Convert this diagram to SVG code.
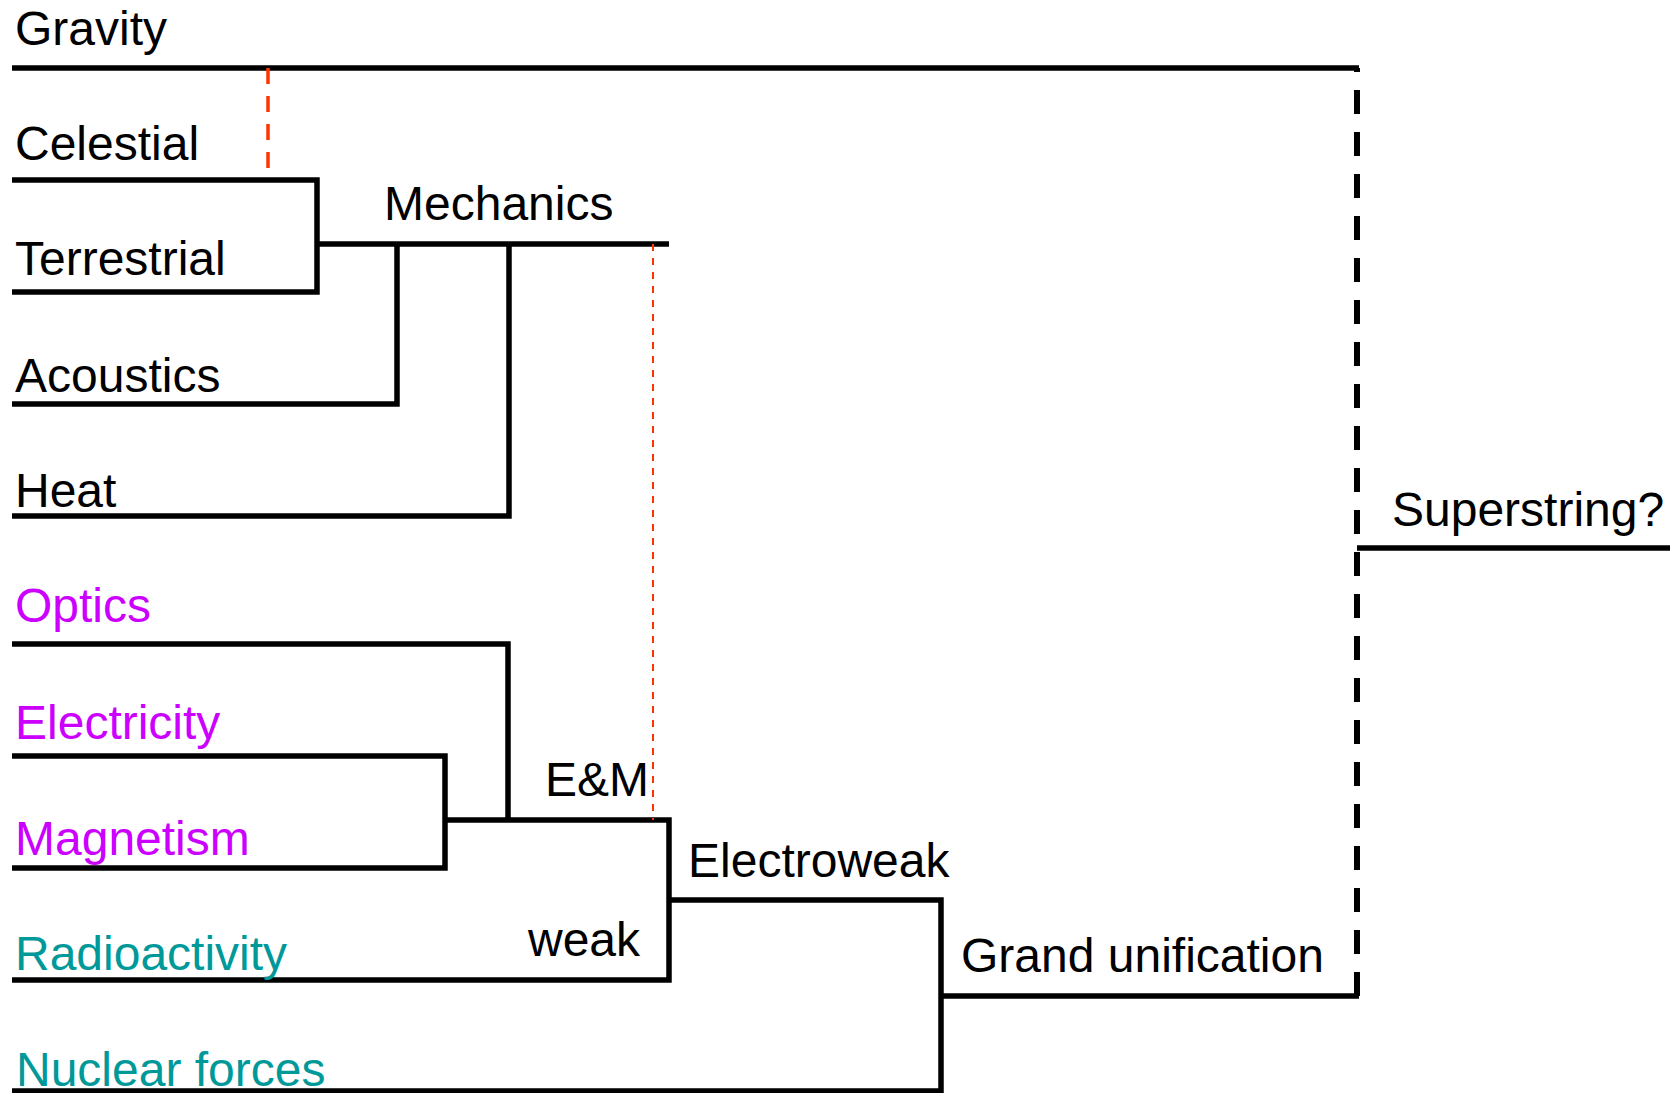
<svg xmlns="http://www.w3.org/2000/svg" width="1670" height="1093" viewBox="0 0 1670 1093">
  <style>
    text { font-family: "Liberation Sans", Arial, sans-serif; font-size: 48px; fill: #000; }
    .mag { fill: #cc00ff; }
    .teal { fill: #009999; }
    .ln { fill: none; stroke: #000; stroke-width: 5.5; stroke-linejoin: miter; stroke-linecap: butt; }
    .dash { fill: none; stroke: #000; stroke-width: 6; stroke-dasharray: 24 18; }
    .red1 { fill: none; stroke: #ff3300; stroke-width: 3.5; stroke-dasharray: 16 12; }
    .red2 { fill: none; stroke: #ff3300; stroke-width: 2; stroke-dasharray: 7 7; }
  </style>
  <rect width="1670" height="1093" fill="#fff"/>
  <g id="connectors">
    <polyline class="ln" points="12,68 1359,68"/>
    <polyline class="ln" points="12,180 317,180 317,292 12,292"/>
    <polyline class="ln" points="317,244 669,244"/>
    <polyline class="ln" points="12,404 397,404 397,244"/>
    <polyline class="ln" points="12,516 509,516 509,244"/>
    <polyline class="ln" points="12,644 508,644 508,820"/>
    <polyline class="ln" points="12,756 445,756 445,868 12,868"/>
    <polyline class="ln" points="445,820 669,820 669,980 12,980"/>
    <polyline class="ln" points="669,900 941,900 941,1091 12,1091"/>
    <polyline class="ln" points="941,996 1359,996"/>
    <line class="dash" x1="1357" y1="996" x2="1357" y2="68"/>
    <polyline class="ln" points="1357,548 1670,548"/>
    <line class="red1" x1="268" y1="68" x2="268" y2="168"/>
    <line class="red2" x1="653" y1="244" x2="653" y2="820"/>
  </g>
  <g id="gravity"><text x="15" y="45">Gravity</text></g>
  <g id="celestial"><text x="15" y="160">Celestial</text></g>
  <g id="terrestrial"><text x="15" y="275">Terrestrial</text></g>
  <g id="mechanics"><text x="384" y="220">Mechanics</text></g>
  <g id="acoustics"><text x="15" y="392">Acoustics</text></g>
  <g id="heat"><text x="15" y="507">Heat</text></g>
  <g id="optics"><text class="mag" x="15" y="622">Optics</text></g>
  <g id="electricity"><text class="mag" x="15" y="739">Electricity</text></g>
  <g id="em"><text x="545" y="796">E&amp;M</text></g>
  <g id="magnetism"><text class="mag" x="15" y="855">Magnetism</text></g>
  <g id="electroweak"><text x="688" y="877">Electroweak</text></g>
  <g id="weak"><text x="528" y="956">weak</text></g>
  <g id="radioactivity"><text class="teal" x="15" y="970">Radioactivity</text></g>
  <g id="grand-unification"><text x="961" y="972">Grand unification</text></g>
  <g id="nuclear-forces"><text class="teal" x="16" y="1086">Nuclear forces</text></g>
  <g id="superstring"><text x="1392" y="526">Superstring?</text></g>
</svg>
